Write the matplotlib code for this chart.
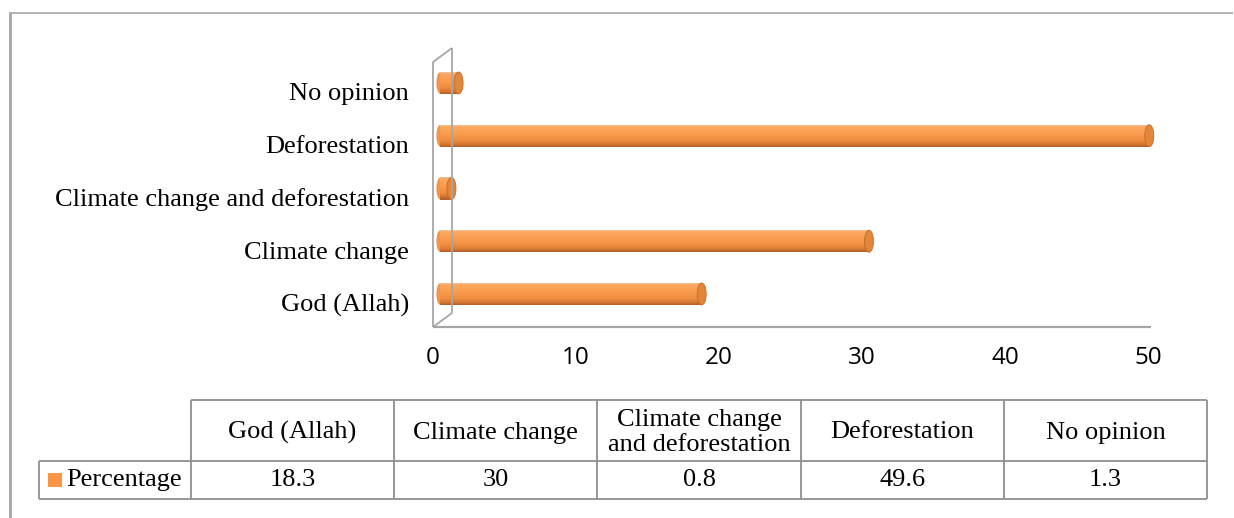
import matplotlib
matplotlib.use("Agg")
import matplotlib.pyplot as plt
from matplotlib.colors import LinearSegmentedColormap
from matplotlib.lines import Line2D
from matplotlib.patches import Ellipse, Rectangle
from matplotlib.transforms import ScaledTranslation

# Survey responses (percent)
categories = ["God (Allah)", "Climate change", "Climate change and deforestation",
              "Deforestation", "No opinion"]
table_headers = ["God (Allah)", "Climate change", "Climate change\nand deforestation",
                 "Deforestation", "No opinion"]
percentages = [18.3, 30, 0.8, 49.6, 1.3]
series_name = "Percentage"
x_ticks = [0, 10, 20, 30, 40, 50]

W, H = 1234, 518
DPI = 100
SERIF = "Liberation Serif"
SANS = "Open Sans"
GRID = "#A6A6A6"
ORANGE = "#F79646"

fig = plt.figure(figsize=(W / DPI, H / DPI), dpi=DPI)


def fx(px):
    return px / W


def fy(py):
    return 1 - py / H


def fig_line(xs, ys, color=GRID, lw=1.3):
    fig.add_artist(Line2D([fx(v) for v in xs], [fy(v) for v in ys],
                          color=color, lw=lw, transform=fig.transFigure,
                          solid_capstyle="butt"))


# outer chart frame (top and left edges)
fig_line([9, 1233], [13, 13], lw=1.2)
fig_line([10, 10], [13, 518], lw=2.0)

# plot area
ax_left, ax_right = 433, 1148
ax_top, ax_bottom = 48, 327
ax = fig.add_axes([fx(ax_left), fy(ax_bottom), fx(ax_right - ax_left),
                   (ax_bottom - ax_top) / H])
ax.set_xlim(0, 50)
ax.set_ylim(-0.455, 4.834)
for s in ax.spines.values():
    s.set_visible(False)
ax.patch.set_alpha(0)

# 3D wall and floor edges
fig_line([433, 433], [62, 327])
fig_line([452, 452], [48, 313])
fig_line([433, 452], [62, 48])
fig_line([433, 452], [327, 313])
fig_line([433, 1151], [327, 327], lw=1.6)

ax.set_yticks(range(len(categories)))
ax.set_yticklabels(categories, fontsize=19, family=SERIF)
ax.set_xticks(x_ticks)
ax.set_xticklabels([str(t) for t in x_ticks], fontsize=17.5, family=SANS)
ax.tick_params(axis="y", length=0, pad=17.3)
ax.tick_params(axis="x", length=0, pad=14)

# cylinders: body shifted back into the 3D depth
depth = ax.transData + ScaledTranslation(7 / DPI, 9 / DPI, fig.dpi_scale_trans)
px_per_unit_y = (ax_bottom - ax_top) / (4.834 + 0.455)
px_per_unit_x = (ax_right - ax_left) / 50
bar_h = 22 / px_per_unit_y
cap_w = 9 / px_per_unit_x

shade = LinearSegmentedColormap.from_list(
    "cyl", [(0.0, "#F3C39A"), (0.08, "#FBA862"), (0.4, "#F99B4C"),
            (0.7, "#EE8C3F"), (0.88, "#D47633"), (1.0, "#AE5E26")])
n_strips = 22
for i, v in enumerate(percentages):
    for k in range(n_strips):
        frac = (k + 0.5) / n_strips
        y_top = i + bar_h / 2 - k * bar_h / n_strips
        ax.barh(y_top - bar_h / n_strips / 2, v, height=bar_h / n_strips * 1.05,
                left=0, color=shade(frac), edgecolor="none", transform=depth,
                zorder=4, clip_on=False)
    # rounded near end and visible far end of each cylinder
    ax.add_patch(Ellipse((0, i), cap_w * 0.8, bar_h * 0.98, facecolor="#F39447",
                         edgecolor="none", transform=depth, zorder=3,
                         clip_on=False))
    ax.add_patch(Ellipse((v, i), cap_w, bar_h, facecolor="#E2863C",
                         edgecolor="#C06A2C", lw=0.6, transform=depth, zorder=5,
                         clip_on=False))

# data table below the chart
cols = [191 + 203.2 * k for k in range(6)]
row_top, row_mid, row_bot = 400, 461, 499
TLINE = "#8F8F8F"
fig_line([cols[0], cols[-1]], [row_top, row_top], color=TLINE, lw=1.3)
fig_line([39, cols[-1]], [row_mid, row_mid], color=TLINE, lw=1.3)
fig_line([39, cols[-1]], [row_bot, row_bot], color=TLINE, lw=1.3)
fig_line([39, 39], [row_mid, row_bot], color=TLINE, lw=1.3)
for c in cols:
    fig_line([c, c], [row_top, row_bot], color=TLINE, lw=1.3)

for k, (hdr, v) in enumerate(zip(table_headers, percentages)):
    cx = (cols[k] + cols[k + 1]) / 2
    fig.text(fx(cx), fy((row_top + row_mid) / 2 + 2), hdr, ha="center",
             va="center", fontsize=19, family=SERIF, linespacing=1.12)
    fig.text(fx(cx), fy((row_mid + row_bot) / 2), f"{v:g}", ha="center",
             va="center", fontsize=19, family=SERIF)

fig.add_artist(Rectangle((fx(48), fy(487)), fx(14), 14 / H, facecolor=ORANGE,
                         edgecolor="none", transform=fig.transFigure))
fig.text(fx(66), fy((row_mid + row_bot) / 2), series_name, ha="left",
         va="center", fontsize=19, family=SERIF)

fig.savefig("out.png", dpi=DPI, facecolor="white")
